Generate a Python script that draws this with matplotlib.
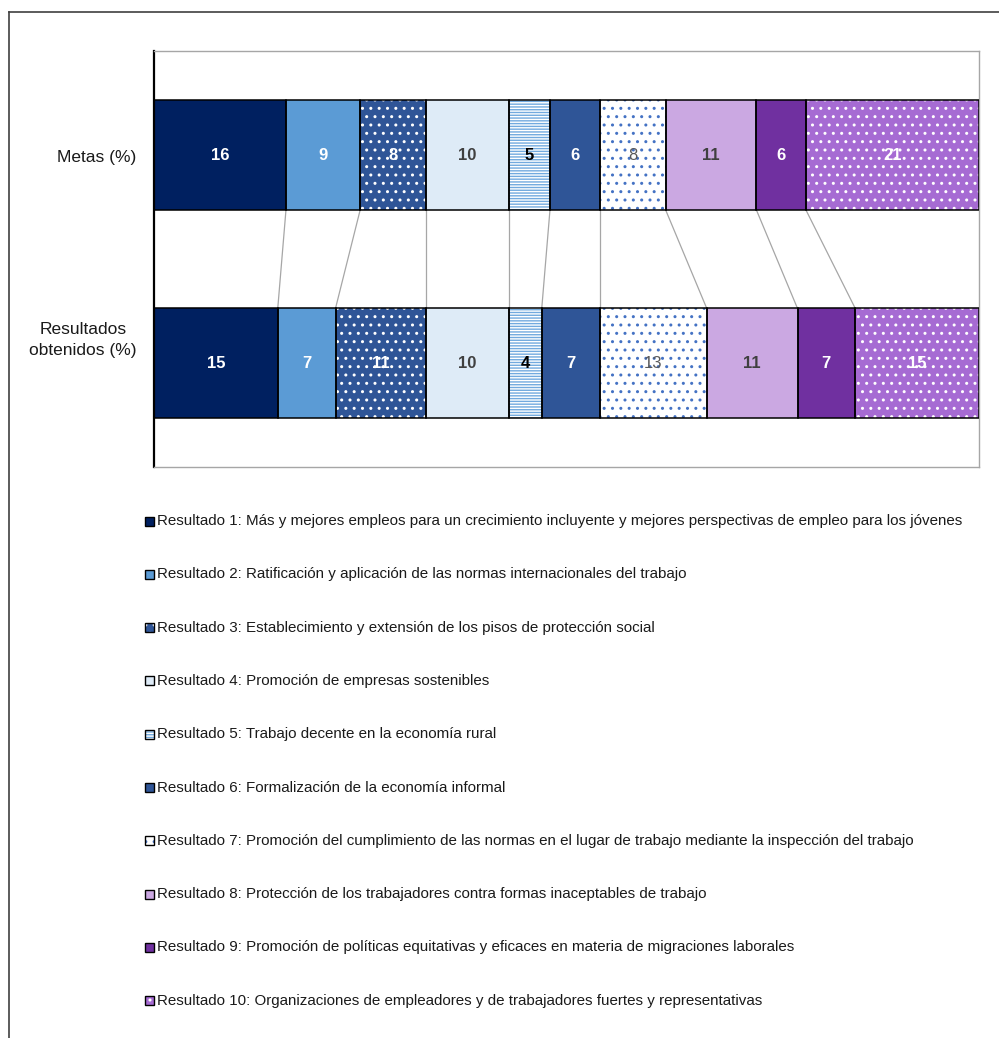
import matplotlib
matplotlib.use("Agg")
import matplotlib.pyplot as plt
from matplotlib import font_manager
from matplotlib.patches import Rectangle
from matplotlib.lines import Line2D
from matplotlib.transforms import blended_transform_factory
import numpy as np

# pick a narrow Arial-like face when it is there
names = {f.name for f in font_manager.fontManager.ttflist}
FONT = "Liberation Sans Narrow" if "Liberation Sans Narrow" in names else "Liberation Sans"
plt.rcParams["font.family"] = [FONT, "DejaVu Sans"]
plt.rcParams["hatch.linewidth"] = 1.0

rows = ["Metas (%)", "Resultados\nobtenidos (%)"]
metas = [16, 9, 8, 10, 5, 6, 8, 11, 6, 21]
resultados = [15, 7, 11, 10, 4, 7, 13, 11, 7, 15]
labels = [
    "Resultado 1: Más y mejores empleos para un crecimiento incluyente y mejores perspectivas de empleo para los jóvenes",
    "Resultado 2: Ratificación y aplicación de las normas internacionales del trabajo",
    "Resultado 3: Establecimiento y extensión de los pisos de protección social",
    "Resultado 4: Promoción de empresas sostenibles",
    "Resultado 5: Trabajo decente en la economía rural",
    "Resultado 6: Formalización de la economía informal",
    "Resultado 7: Promoción del cumplimiento de las normas en el lugar de trabajo mediante la inspección del trabajo",
    "Resultado 8: Protección de los trabajadores contra formas inaceptables de trabajo",
    "Resultado 9: Promoción de políticas equitativas y eficaces en materia de migraciones laborales",
    "Resultado 10: Organizaciones de empleadores y de trabajadores fuertes y representativas",
]

# face colour, hatch, hatch colour, label colour, label weight
styles = [
    ("#002060", None, None, "white", "bold"),
    ("#5B9BD5", None, None, "white", "bold"),
    ("#2F5597", "..", "white", "white", "bold"),
    ("#DEEBF7", None, None, "#404040", "bold"),
    ("white", "------", "#72AADF", "black", "bold"),
    ("#2F5597", None, None, "white", "bold"),
    ("white", "..", "#4472C4", "#595959", "normal"),
    ("#CBA8E2", None, None, "#404040", "bold"),
    ("#7030A0", None, None, "white", "bold"),
    ("#A66BD3", "..", "white", "white", "bold"),
]

W, H = 999, 1038
fig = plt.figure(figsize=(W / 100, H / 100), dpi=100)
ax = fig.add_axes([154 / W, 1 - 467 / H, 825 / W, 416 / H])

data = np.array([metas, resultados], dtype=float)
left = np.zeros(2)
ypos = np.array([0, 1])
bh = 0.525
for i, (fc, hatch, hc, tc, tw) in enumerate(styles):
    vals = data[:, i]
    if hatch:
        ax.barh(ypos, vals, left=left, height=bh, color=fc, hatch=hatch,
                edgecolor=hc, linewidth=0, zorder=2)
    else:
        ax.barh(ypos, vals, left=left, height=bh, color=fc, linewidth=0, zorder=2)
    ax.barh(ypos, vals, left=left, height=bh, fill=False, edgecolor="black",
            linewidth=1.1, zorder=3)
    for y, v, l in zip(ypos, vals, left):
        ax.text(l + v / 2, y, f"{v:g}", ha="center", va="center", fontsize=12,
                color=tc, fontweight=tw, zorder=4)
    left = left + vals

# series lines between the two bars
cm = np.cumsum(metas)[:-1]
cr = np.cumsum(resultados)[:-1]
for a, b in zip(cm, cr):
    ax.plot([a, b], [bh / 2, 1 - bh / 2], color="#A6A6A6", linewidth=0.9, zorder=1)

ax.set_xlim(0, 100)
ax.set_ylim(1.5, -0.5)
ax.set_xticks([])
ax.set_yticks([])
for s in ["top", "right", "bottom"]:
    ax.spines[s].set_color("#A6A6A6")
    ax.spines[s].set_linewidth(1.0)
ax.spines["left"].set_color("black")
ax.spines["left"].set_linewidth(1.6)

# category names
tr = blended_transform_factory(ax.transAxes, ax.transData)
ax.text(-0.021, 0.01, rows[0], transform=tr, ha="right", va="center",
        fontsize=12.5, color="#1a1a1a")
ax.text(-0.021, 0.89, rows[1], transform=tr, ha="right", va="center",
        fontsize=12.5, color="#1a1a1a", multialignment="center", linespacing=1.5)

# legend drawn row by row
y0, dy = 521, 53.3
for i, (lab, (fc, hatch, hc, tc, tw)) in enumerate(zip(labels, styles)):
    yc = y0 + i * dy
    x0, sz = 145, 9
    r = Rectangle((x0 / W, 1 - (yc + sz / 2) / H), sz / W, sz / H,
                  transform=fig.transFigure, facecolor=fc, hatch=hatch,
                  edgecolor=hc if hatch else fc, linewidth=0)
    fig.add_artist(r)
    fig.add_artist(Rectangle((x0 / W, 1 - (yc + sz / 2) / H), sz / W, sz / H,
                             transform=fig.transFigure, fill=False,
                             edgecolor="black", linewidth=1.0))
    fig.text(157 / W, 1 - yc / H, lab, ha="left", va="center", fontsize=10.9,
             color="#1a1a1a")

# outer chart frame
fig.add_artist(Line2D([9 / W, 1], [1 - 12 / H, 1 - 12 / H], transform=fig.transFigure,
                      color="#404040", linewidth=1.2))
fig.add_artist(Line2D([9 / W, 9 / W], [1 - 12 / H, 0], transform=fig.transFigure,
                      color="#404040", linewidth=1.2))

fig.savefig("out.png", dpi=100, facecolor="white")
